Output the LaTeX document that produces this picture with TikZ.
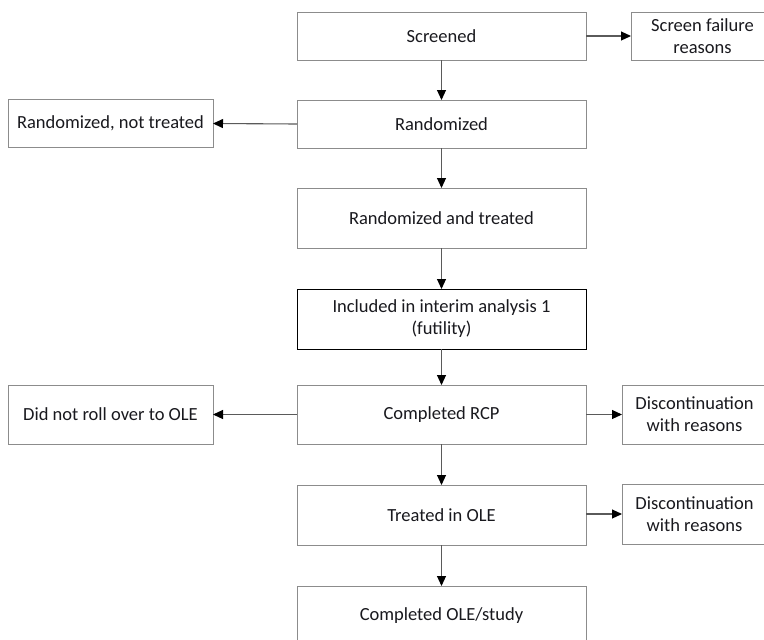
\documentclass[tikz,border=0pt]{standalone}
\usepackage{fontspec}
\setmainfont{Carlito}
\usetikzlibrary{arrows.meta}
\definecolor{boxgray}{RGB}{140,140,140}
\definecolor{arrgray}{RGB}{90,90,90}
\definecolor{txt}{RGB}{25,25,30}
\tikzset{
  box/.style={draw=boxgray, line width=1pt, fill=white, rectangle, inner sep=0pt, outer sep=0pt,
    align=center, text=txt, font=\fontsize{18.5}{22}\selectfont},
  arr/.style={draw=arrgray, line width=1.1pt, -{Triangle[length=10pt,width=9pt,color=black]}}
}
\begin{document}
\begin{tikzpicture}[x=1pt,y=-1pt]
\useasboundingbox (0,0) rectangle (764,640);
\clip (0,0) rectangle (764,640);
\fill[white] (0,0) rectangle (764,640);
\node[box, minimum width=289pt, minimum height=48pt] (scr) at (441.5,36) {Screened};
\node[box, minimum width=143pt, minimum height=48pt] (sfr) at (702.5,36) {Screen failure\\reasons};
\node[box, minimum width=205pt, minimum height=48pt] (rnt) at (110.5,123.5) {Randomized, not treated};
\node[box, minimum width=289pt, minimum height=48pt] (rnd) at (441.5,124) {Randomized};
\node[box, minimum width=289pt, minimum height=60pt] (rat) at (441.5,218) {Randomized and treated};
\node[box, draw=black, minimum width=289pt, minimum height=60pt] (inc) at (441.5,319) {Included in interim analysis 1\\(futility)};
\node[box, minimum width=205pt, minimum height=59pt] (dnr) at (110.5,414.5) {Did not roll over to OLE};
\node[box, minimum width=289pt, minimum height=59pt] (rcp) at (441.5,414.5) {Completed RCP};
\node[box, minimum width=145pt, minimum height=59pt] (dis1) at (694.5,414.5) {Discontinuation\\with reasons};
\node[box, minimum width=289pt, minimum height=60pt] (ole) at (441.5,515) {Treated in OLE};
\node[box, minimum width=145pt, minimum height=60pt] (dis2) at (694.5,514) {Discontinuation\\with reasons};
\node[box, minimum width=289pt, minimum height=60pt] (cmp) at (441.5,616) {Completed OLE/study};
\draw[arr] (scr) -- (rnd);
\draw[arr] (scr.east) -- (sfr.west);
\draw[arr] (rnd.west) -- (rnt.east);
\draw[arr] (rnd) -- (rat);
\draw[arr] (rat) -- (inc);
\draw[arr] (inc) -- (rcp);
\draw[arr] (rcp.west) -- (dnr.east);
\draw[arr] (rcp.east) -- (dis1.west);
\draw[arr] (rcp) -- (ole);
\draw[arr] (ole.east |- dis2.west) -- (dis2.west);
\draw[arr] (ole) -- (cmp);
\end{tikzpicture}
\end{document}
